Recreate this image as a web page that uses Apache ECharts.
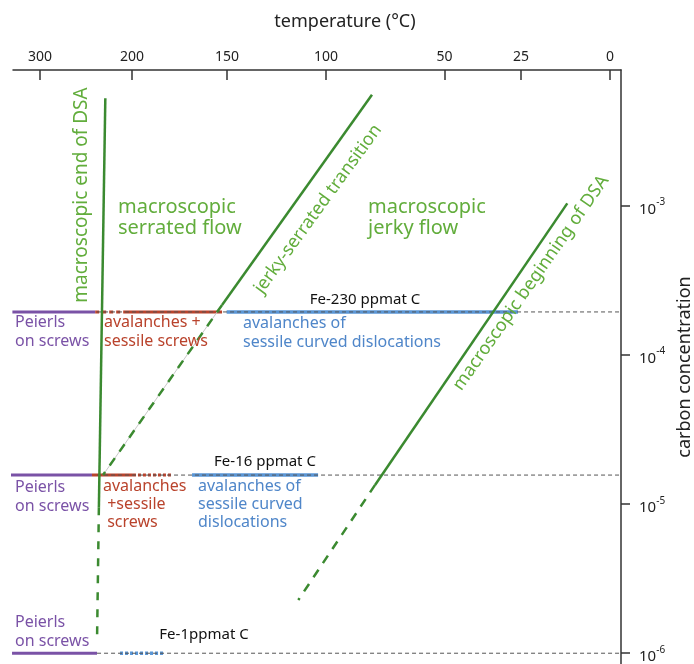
<!DOCTYPE html>
<html>
<head>
<meta charset="utf-8">
<script src="https://cdn.jsdelivr.net/npm/echarts@6.0.0/dist/echarts.min.js"></script>
<style>html,body{margin:0;padding:0;background:#fff}#chart{width:694px;height:664px}</style>
</head>
<body>
<div id="chart"></div>
<script>
// ---- axis ticks ----
const tempTicks = [300, 200, 150, 100, 50, 25, 0];          // °C, top axis labels
const tempTickPos = [0, 92, 187, 286, 404.5, 481, 570];      // non-uniform placement of those ticks along the axis
const concTicks = [1e-6, 1e-5, 1e-4, 1e-3];                  // right axis (log)

// ---- boundary lines [temperature °C, carbon concentration] ----
const endDSASolid   = [[229, 5.2e-3], [236, 9.5e-6]];
const endDSADashed  = [[236, 9.5e-6], [238, 1.23e-6]];
const jerkySolid    = [[80.6, 5.5e-3], [152.6, 2.15e-4]];
const jerkyDashed   = [[152.6, 2.15e-4], [231.5, 1.56e-5]];
const beginSolid    = [[12, 1.03e-3], [79.3, 1.34e-5]];
const beginDashed   = [[79.3, 1.34e-5], [114, 2.27e-6]];

// ---- alloy levels ----
const fe230 = 1.93e-4, fe16 = 1.56e-5, fe1 = 1.0e-6;
// regime segments along each level [start °C, end °C]
const fe230Peierls   = [330, 240];
const fe230AvalDash  = [240, 207.6];
const fe230AvalSolid = [207.6, 152.6];
const fe230Sessile   = [150.2, 26];
const fe16Peierls    = [333, 243.5];
const fe16AvalSolid  = [243.5, 199.5];
const fe16AvalDot    = [199.5, 179];
const fe16Sessile    = [168.4, 104];
const fe1Peierls     = [330.4, 238];
const fe1Sessile     = [213, 182.6];
const refDash = [238, -3];   // dashed reference line span for each alloy

function toX(t) {
  const n = tempTicks.length;
  let i = 0;
  if (t >= tempTicks[0]) i = 0;
  else if (t <= tempTicks[n - 1]) i = n - 2;
  else { while (i < n - 2 && t < tempTicks[i + 1]) i++; }
  const f = (t - tempTicks[i]) / (tempTicks[i + 1] - tempTicks[i]);
  return tempTickPos[i] + f * (tempTickPos[i + 1] - tempTickPos[i]);
}
function fromX(x) {
  const i = tempTickPos.indexOf(x);
  return i >= 0 ? tempTicks[i] : '';
}

const GREEN = '#3b8a30', GREEN_TXT = '#62ad3c', PURPLE = '#7a52a6', RED = '#b9432c', BLUE = '#5a96d6', BLUE_TXT = '#4f86c9';
const FONT = '"Noto Sans", sans-serif';

function line(pts, color, width, type, z) {
  return {
    type: 'line', data: pts.map(p => [toX(p[0]), p[1]]), symbol: 'none', clip: false, silent: true,
    animation: false, z: z,
    lineStyle: { color: color, width: width, type: type, cap: 'butt' }
  };
}
function hseg(span, level, color, width, type, z) {
  return line([[span[0], level], [span[1], level]], color, width, type, z);
}

const series = [
  hseg(fe230Peierls, fe230, PURPLE, 3, 'solid', 2),
  hseg(fe230AvalDash, fe230, RED, 3, [4, 3], 2),
  hseg(fe230AvalSolid, fe230, RED, 3, 'solid', 2),
  hseg(fe230Sessile, fe230, BLUE, 3.5, 'solid', 2),
  hseg(fe16Peierls, fe16, PURPLE, 3, 'solid', 2),
  hseg(fe16AvalSolid, fe16, RED, 3, 'solid', 2),
  hseg(fe16AvalDot, fe16, RED, 3, [3, 2], 2),
  hseg(fe16Sessile, fe16, BLUE, 3.5, 'solid', 2),
  hseg(fe1Peierls, fe1, PURPLE, 3, 'solid', 2),
  hseg(fe1Sessile, fe1, BLUE, 3.5, [3, 2], 2),
  hseg(refDash, fe230, '#555', 1, [4, 3], 3),
  hseg(refDash, fe16, '#555', 1, [4, 3], 3),
  hseg(refDash, fe1, '#555', 1, [4, 3], 3),
  line(jerkyDashed, '#c8c8c8', 1, 'solid', 4),
  line(endDSASolid, GREEN, 2.5, 'solid', 5),
  line(endDSADashed, GREEN, 2.5, [8, 9], 5),
  line(jerkySolid, GREEN, 2.5, 'solid', 5),
  line(jerkyDashed, GREEN, 2.5, [9, 8], 5),
  line(beginSolid, GREEN, 2.5, 'solid', 5),
  line(beginDashed, GREEN, 2.5, [9, 8], 5)
];

function txt(text, x, y, color, size, opts) {
  opts = opts || {};
  return {
    type: 'text', x: x, y: y, rotation: opts.rot || 0, z: 10, silent: true,
    style: {
      text: text, fill: color, fontSize: size, fontFamily: FONT,
      textAlign: opts.align || 'left', textVerticalAlign: opts.valign || 'middle',
      lineHeight: opts.lh || size + 2
    }
  };
}

const chart = echarts.init(document.getElementById('chart'), null, { renderer: 'canvas' });
chart.setOption({
  backgroundColor: '#fff',
  animation: false,
  grid: { left: 13, right: 73, top: 70, bottom: 0, containLabel: false, outerBoundsMode: 'none' },
  xAxis: {
    type: 'value', position: 'top', min: -27, max: 581,
    axisLine: { onZero: false, lineStyle: { color: '#333', width: 1.5 } },
    axisTick: { inside: true, length: 10, customValues: tempTickPos, lineStyle: { color: '#333', width: 1.5 } },
    axisLabel: { customValues: tempTickPos, formatter: v => String(fromX(v)), color: '#222', fontSize: 14, fontFamily: FONT, margin: 6 },
    splitLine: { show: false }
  },
  yAxis: {
    type: 'log', logBase: 10, position: 'right',
    min: 8.47e-7, max: 8.05e-3,
    name: 'carbon concentration', nameLocation: 'middle', nameRotate: 90, nameGap: 52,
    nameTextStyle: { fontSize: 18, color: '#222', fontFamily: FONT },
    axisLine: { show: true, onZero: false, lineStyle: { color: '#333', width: 1.5 } },
    axisTick: { show: true, inside: false, length: 9, customValues: concTicks, lineStyle: { color: '#333', width: 1.5 } },
    axisLabel: {
      customValues: concTicks, margin: 18,
      formatter: v => '{a|10}{b|' + Math.round(Math.log10(v)) + '}',
      rich: {
        a: { fontSize: 15, fontFamily: FONT, color: '#222', padding: [8, 0, 0, 0] },
        b: { fontSize: 10, fontFamily: FONT, color: '#222', padding: [0, 0, 6, 0] }
      }
    },
    splitLine: { show: false }
  },
  series: series,
  graphic: [
    txt('temperature (°C)', 345, 22, '#222', 18, { align: 'center' }),
    txt('macroscopic end of DSA', 82, 195, GREEN_TXT, 19, { align: 'center', rot: Math.PI / 2 }),
    txt('macroscopic\nserrated flow', 118, 218, GREEN_TXT, 20, { lh: 21 }),
    txt('jerky-serrated transition', 318, 209, GREEN_TXT, 18, { align: 'center', rot: 54 * Math.PI / 180 }),
    txt('macroscopic\njerky flow', 368, 218, GREEN_TXT, 20, { lh: 21 }),
    txt('macroscopic beginning of DSA', 531, 283, GREEN_TXT, 18, { align: 'center', rot: 55 * Math.PI / 180 }),
    txt('Fe-230 ppmat C', 365, 300, '#111', 15, { align: 'center' }),
    txt('Fe-16 ppmat C', 265, 462, '#111', 15, { align: 'center' }),
    txt('Fe-1ppmat C', 204, 635, '#111', 15, { align: 'center' }),
    txt('Peierls\non screws', 15, 332, PURPLE, 16, { lh: 19 }),
    txt('Peierls\non screws', 15, 497, PURPLE, 16, { lh: 19 }),
    txt('Peierls\non screws', 15, 632, PURPLE, 16, { lh: 19 }),
    txt('avalanches +\nsessile screws', 104, 332, RED, 16, { lh: 19 }),
    txt('avalanches\n +sessile\n screws', 103, 504, RED, 16, { lh: 18 }),
    txt('avalanches of\nsessile curved dislocations', 243, 333, BLUE_TXT, 16, { lh: 19 }),
    txt('avalanches of\nsessile curved\ndislocations', 198, 504, BLUE_TXT, 16, { lh: 18 })
  ]
});
</script>
</body>
</html>
